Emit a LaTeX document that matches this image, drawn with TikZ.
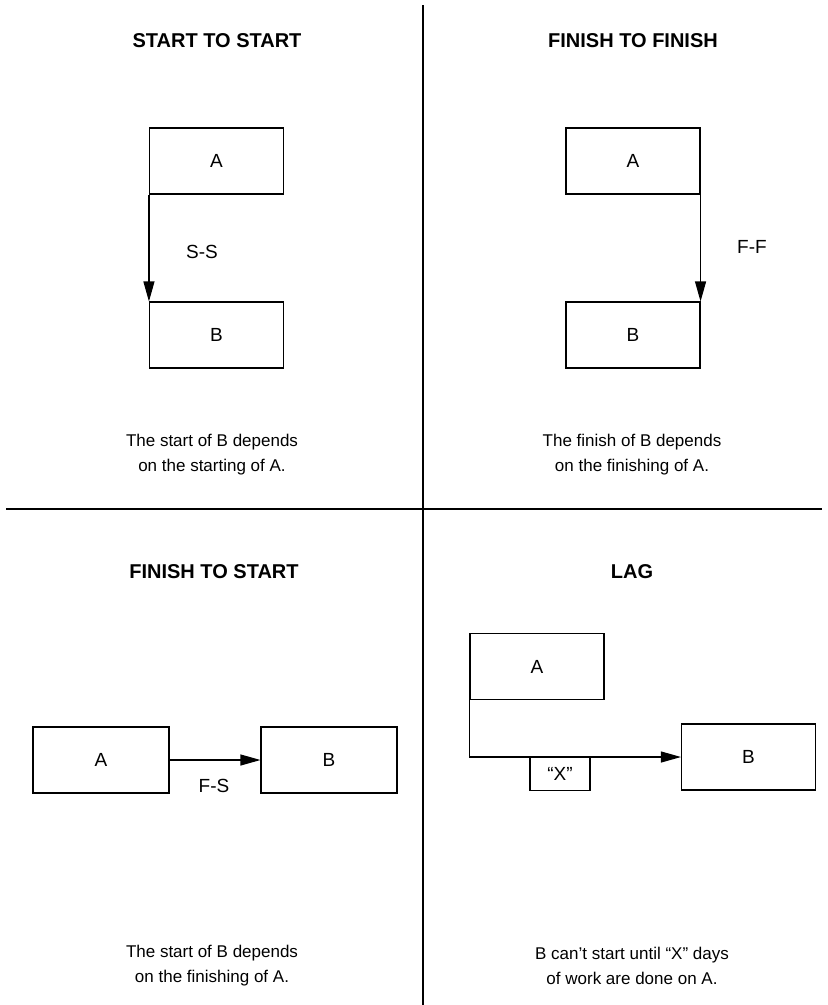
\documentclass[tikz,border=0pt]{standalone}
\usepackage{fontspec}
\setmainfont{Liberation Sans}
\usetikzlibrary{arrows.meta}

\begin{document}
\begin{tikzpicture}[x=1pt,y=-1pt,
    box/.style={draw,line width=1.1pt,minimum width=134pt,minimum height=66pt,
      inner sep=0pt,font=\fontsize{19}{23}\selectfont},
    lagbox/.style={draw,line width=1.1pt,minimum width=60pt,minimum height=33pt,
      inner sep=0pt,font=\fontsize{19}{23}\selectfont},
    title/.style={font=\fontsize{20}{24}\selectfont\bfseries},
    note/.style={align=center,font=\fontsize{17}{25}\selectfont},
    lbl/.style={font=\fontsize{19}{23}\selectfont},
    link/.style={line width=1.1pt,-{Triangle[length=20pt,width=11pt]}}]
      \useasboundingbox (0,0) rectangle (828,1005) ;
      % dividing lines
      \draw[line width=1.2pt] (423,5)--(423,1005) ;
      \draw[line width=1.2pt] (6,509)--(822,509) ;
      % start to start
      \node[title] (ss) at (217,41) {START TO START} ;
      \node[box] (ssA) at (216.5,161) {A} ;
      \node[box] (ssB) at (216.5,335) {B} ;
      \draw[link] (ssA.south west)--(ssB.north west) ;
      \node[lbl] (ssL) at (202,252) {S-S} ;
      \node[note] (ssT) at (212,455) {The start of B depends\\on the starting of A.} ;
      % finish to finish
      \node[title] (ff) at (633,41) {FINISH TO FINISH} ;
      \node[box] (ffA) at (633,161) {A} ;
      \node[box] (ffB) at (633,335) {B} ;
      \draw[link] (ffA.south east)--(ffB.north east) ;
      \node[lbl] (ffL) at (752,247) {F-F} ;
      \node[note] (ffT) at (632,455) {The finish of B depends\\on the finishing of A.} ;
      % finish to start
      \node[title] (fs) at (214,572) {FINISH TO START} ;
      \node[box,minimum width=136pt] (fsA) at (101,760) {A} ;
      \node[box,minimum width=136pt] (fsB) at (329,760) {B} ;
      \draw[link] (fsA.east)--(fsB.west) ;
      \node[lbl] (fsL) at (214,786) {F-S} ;
      \node[note] (fsT) at (212,966) {The start of B depends\\on the finishing of A.} ;
      % lag
      \node[title] (lag) at (632,572) {LAG} ;
      \node[box] (lagA) at (537,666.5) {A} ;
      \node[box] (lagB) at (748.5,757) {B} ;
      \coordinate (bend) at (lagA.south west |- lagB.west) ;
      \draw[link] (lagA.south west)--(bend)--(lagB.west) ;
      \node[lagbox,anchor=north] (lagX) at (560,757) {“X”} ;
      \node[note] (lagT) at (632,966) {B can’t start until “X” days\\of work are done on A.} ;
    \end{tikzpicture}
\end{document}
